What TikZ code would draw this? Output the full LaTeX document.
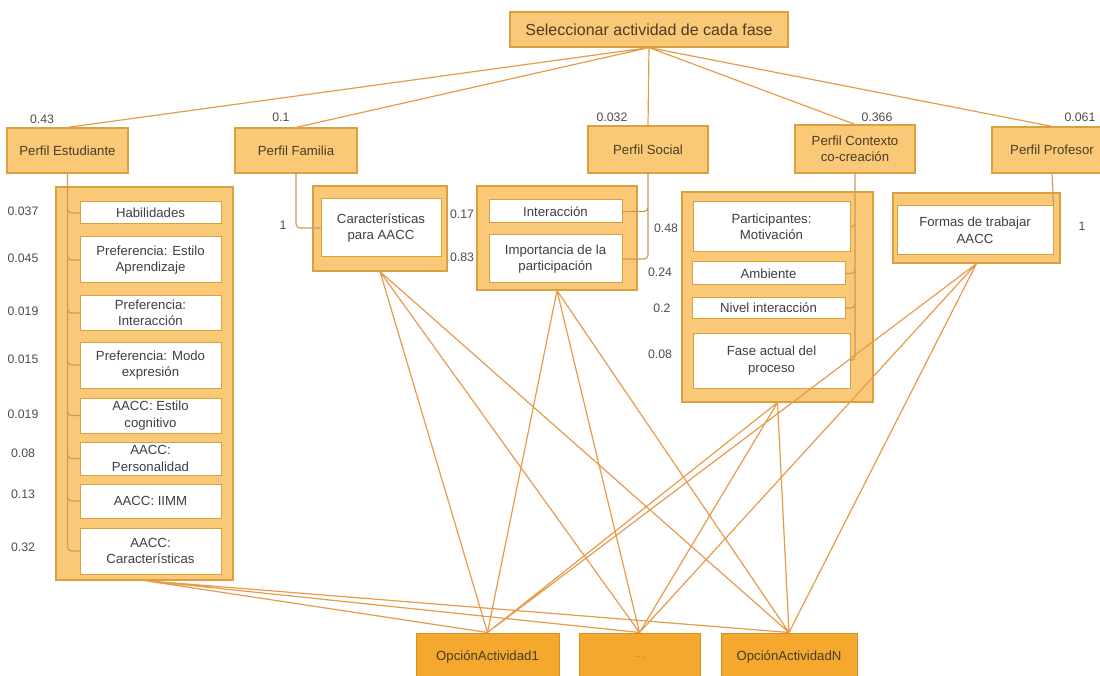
\documentclass[tikz,border=0pt]{standalone}
\usepackage{fontspec}
\setmainfont{Liberation Sans}
\definecolor{tinta}{HTML}{3B3F47}
\definecolor{marron}{HTML}{4A3C26}
\definecolor{gris}{HTML}{4D4D4D}
\definecolor{relleno}{HTML}{FAC977}
\definecolor{borde}{HTML}{D9A040}
\definecolor{naranja}{HTML}{F5A82E}
\definecolor{bordeop}{HTML}{D68E1E}
\definecolor{linea}{HTML}{E69C4A}
\definecolor{rama}{HTML}{C99A5C}
\newcommand{\titulo}{\fontsize{16}{19}\selectfont}
\newcommand{\txt}{\fontsize{13.2}{16.5}\selectfont}
\newcommand{\peso}{\fontsize{12.3}{14}\selectfont}
\tikzset{perfil/.style={draw=borde,fill=relleno,line width=1.2pt,inner sep=0,align=center,
    text=marron,font=\txt},
  grupo/.style={draw=borde,fill=relleno,line width=1.2pt,inner sep=0},
  criterio/.style={draw=borde,fill=white,line width=1pt,inner sep=0,align=center,
    text=tinta,font=\txt},
  opcion/.style={draw=bordeop,fill=naranja,line width=1pt,inner sep=0,text=marron,font=\txt},
  enlace/.style={linea,line width=1.2pt},
  ramal/.style={rama,line width=1.1pt,rounded corners=4pt},
  valor/.style={inner sep=0,text=gris,font=\peso}}
% \caja[estilo]{nombre}{x1}{y1}{x2}{y2}{texto}: Kasten ueber zwei Ecken (Pixel)
\newcommand{\caja}[7][criterio]{\node[#1,minimum width={#5pt-#3pt},minimum height={#6pt-#4pt}]
  (#2) at ({(#3+#5)/2},{(#4+#6)/2}) {#7};}

\begin{document}
\begin{tikzpicture}[x=1pt,y=-1pt]
\useasboundingbox[fill=white] (0,0) rectangle (1100,676);
% Ziel oben, fuenf Perfile mit Gewichten, darunter Kriterien; unten die Optionen
\caja[perfil,font=\titulo]{sel}{510}{12}{788}{47}{Seleccionar actividad de cada fase}
\caja[perfil]{pest}{7}{128}{128}{173}{Perfil Estudiante}
\caja[perfil]{pfam}{235}{128}{357}{173}{Perfil Familia}
\caja[perfil]{psoc}{588}{126}{708}{173}{Perfil Social}
\caja[perfil]{pcon}{795}{125}{915}{173}{Perfil Contexto\\co-creación}
\caja[perfil]{ppro}{992}{127}{1112}{173}{Perfil Profesor}
\draw[enlace] (sel.south) -- (pest.north) (sel.south) -- (pfam.north) (sel.south) -- (psoc.north)
  (sel.south) -- (pcon.north) (sel.south) -- (ppro.north);
\node[valor] (vest) at (42,119) {0.43};
\node[valor] (vfam) at (281,117) {0.1};
\node[valor] (vsoc) at (612,117) {0.032};
\node[valor] (vcon) at (877,117) {0.366};
\node[valor] (vpro) at (1080,117) {0.061};
% Gruppen
\caja[grupo]{gest}{56}{187}{233}{580}{}
\caja[grupo]{gfam}{313}{186}{447}{271}{}
\caja[grupo]{gsoc}{477}{186}{637}{290}{}
\caja[grupo]{gcon}{682}{192}{873}{402}{}
\caja[grupo]{gpro}{893}{193}{1060}{263}{}
% Estudiante
\caja{hab}{80}{202}{221}{224}{Habilidades}
\caja{pea}{80}{237}{221}{283}{Preferencia: Estilo\\Aprendizaje}
\caja{pin}{80}{296}{221}{330}{Preferencia:\\Interacción}
\caja{pme}{80}{342}{221}{388}{Preferencia: Modo\\expresión}
\caja{aec}{80}{398}{221}{433}{AACC: Estilo\\cognitivo}
\caja{ape}{80}{442}{221}{475}{AACC:\\Personalidad}
\caja{aii}{80}{484}{221}{518}{AACC: IIMM}
\caja{aca}{80}{528}{221}{574}{AACC:\\Características}
\draw[ramal] (pest.south) |- (hab.west) (pest.south) |- (pea.west) (pest.south) |- (pin.west)
  (pest.south) |- (pme.west) (pest.south) |- (aec.west) (pest.south) |- (ape.west)
  (pest.south) |- (aii.west) (pest.south) |- (aca.west);
\node[valor] (v1) at (23,211) {0.037};
\node[valor] (v2) at (23,258) {0.045};
\node[valor] (v3) at (23,311) {0.019};
\node[valor] (v4) at (23,359) {0.015};
\node[valor] (v5) at (23,414) {0.019};
\node[valor] (v6) at (23,453) {0.08};
\node[valor] (v7) at (23,494) {0.13};
\node[valor] (v8) at (23,547) {0.32};
% Familia
\caja{car}{321}{199}{441}{257}{Características\\para AACC}
\draw[ramal] (pfam.south) |- (car.west);
\node[valor] (vcar) at (283,225) {1};
% Social
\caja{int}{489}{200}{622}{223}{Interacción}
\caja{imp}{489}{235}{622}{283}{Importancia de la\\participación}
\draw[ramal] (psoc.south) |- (int.east) (psoc.south) |- (imp.east);
\node[valor] (vint) at (462,214) {0.17};
\node[valor] (vimp) at (462,257) {0.83};
% Contexto
\caja{mot}{693}{202}{850}{252}{Participantes:\\Motivación}
\caja{amb}{692}{262}{845}{285}{Ambiente}
\caja{niv}{692}{298}{845}{318}{Nivel interacción}
\caja{fas}{693}{333}{850}{388}{Fase actual del\\proceso}
\draw[ramal] (pcon.south) |- (mot.east) (pcon.south) |- (amb.east) (pcon.south) |- (niv.east)
  (pcon.south) |- (fas.east);
\node[valor] (vmot) at (666,228) {0.48};
\node[valor] (vamb) at (660,272) {0.24};
\node[valor] (vniv) at (662,308) {0.2};
\node[valor] (vfas) at (660,354) {0.08};
% Profesor
\caja{for}{897}{206}{1053}{255}{Formas de trabajar\\AACC}
\draw[ramal] (ppro.south) -- (for.north east);
\node[valor] (vfor) at (1082,226) {1};
% Optionen
\caja[opcion]{op1}{416}{633}{559}{681}{OpciónActividad1}
\caja[opcion,text=marron!60]{opd}{579}{633}{700}{681}{...}
\caja[opcion]{opn}{721}{633}{857}{681}{OpciónActividadN}
\draw[enlace] (gest.south) -- (op1.north) (gest.south) -- (opd.north) (gest.south) -- (opn.north)
  (gfam.south) -- (op1.north) (gfam.south) -- (opd.north) (gfam.south) -- (opn.north)
  (gsoc.south) -- (op1.north) (gsoc.south) -- (opd.north) (gsoc.south) -- (opn.north)
  (gcon.south) -- (op1.north) (gcon.south) -- (opd.north) (gcon.south) -- (opn.north)
  (gpro.south) -- (op1.north) (gpro.south) -- (opd.north) (gpro.south) -- (opn.north);
\end{tikzpicture}
\end{document}
